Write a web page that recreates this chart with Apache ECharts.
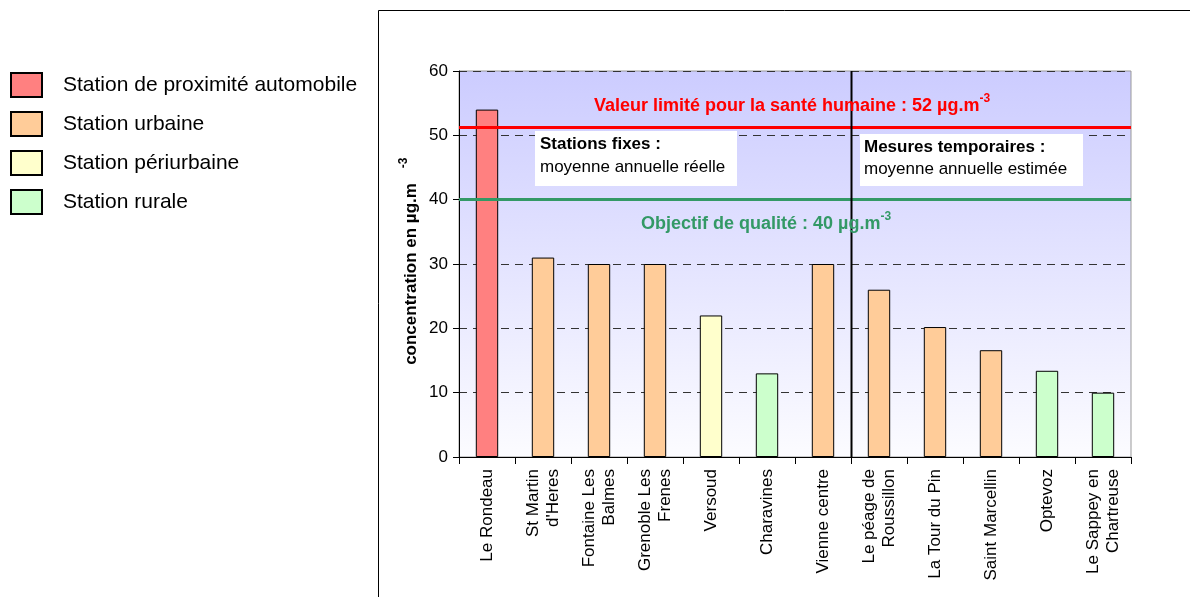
<!DOCTYPE html>
<html>
<head>
<meta charset="utf-8">
<script src="https://cdn.jsdelivr.net/npm/echarts@6/dist/echarts.min.js"></script>
<style>html,body{margin:0;padding:0;background:#fff}#c{width:1190px;height:597px}</style>
</head>
<body>
<div id="c"></div>
<script>
const categories = ["Le Rondeau", "St Martin\nd'Heres", "Fontaine Les\nBalmes", "Grenoble Les\nFrenes", "Versoud", "Charavines", "Vienne centre", "Le péage de\nRoussillon", "La Tour du Pin", "Saint Marcellin", "Optevoz", "Le Sappey en\nChartreuse"];
const values = [54, 31, 30, 30, 22, 13, 30, 26, 20.2, 16.6, 13.4, 10];
const stationTypes = ["auto", "urbaine", "urbaine", "urbaine", "peri", "rurale", "urbaine", "urbaine", "urbaine", "urbaine", "rurale", "rurale"];
const typeKeys = ["auto", "urbaine", "peri", "rurale"];
const typeNames = ["Station de proximité automobile", "Station urbaine", "Station périurbaine", "Station rurale"];
const typeColors = ["#FF8080", "#FFCC99", "#FFFFCC", "#CCFFCC"];
const limitValue = 51.3;
const objectiveValue = 40;
const yTicks = { min: 0, max: 60, interval: 10 };

const FONT = '"Liberation Sans", Arial, sans-serif';
const chart = echarts.init(document.getElementById('c'), null, { renderer: 'canvas' });

const series = typeKeys.map((k, ti) => ({
  name: typeNames[ti],
  type: 'bar',
  stack: 'all',
  barWidth: '40%',
  itemStyle: { color: typeColors[ti], borderColor: '#000', borderWidth: 1 },
  emphasis: { disabled: true },
  data: values.map((v, i) => stationTypes[i] === k ? v : '-')
}));

series[0].markLine = {
  silent: true,
  symbol: 'none',
  label: { show: false },
  data: [
    { yAxis: limitValue, lineStyle: { color: '#FF0000', width: 3, type: 'solid' } },
    { yAxis: objectiveValue, lineStyle: { color: '#339966', width: 3, type: 'solid' } }
  ]
};

const option = {
  animation: false,
  backgroundColor: '#fff',
  textStyle: { fontFamily: FONT },
  grid: {
    left: 459, right: 59, top: 71, bottom: 140,
    show: true,
    borderColor: '#999', borderWidth: 1,
    backgroundColor: new echarts.graphic.LinearGradient(0, 0, 0, 1, [
      { offset: 0, color: '#CCCCFF' },
      { offset: 1, color: '#FCFCFF' }
    ])
  },
  legend: {
    orient: 'vertical',
    left: 10, top: 72,
    itemWidth: 31, itemHeight: 24, itemGap: 13,
    icon: 'rect',
    padding: 0,
    selectedMode: false,
    textStyle: { fontSize: 21, color: '#000', fontFamily: FONT, padding: [7, 0, 0, 16] },
    data: typeNames
  },
  xAxis: {
    type: 'category',
    data: categories,
    axisLine: { lineStyle: { color: '#000', width: 1 } },
    axisTick: { show: true, interval: 0, length: 7, lineStyle: { color: '#000' } },
    axisLabel: { interval: 0, rotate: 90, fontSize: 17, lineHeight: 20, color: '#000', margin: 12, fontFamily: FONT }
  },
  yAxis: {
    type: 'value',
    min: yTicks.min, max: yTicks.max, interval: yTicks.interval,
    axisLine: { show: true, lineStyle: { color: '#000', width: 1 } },
    axisTick: { show: true, length: 6, lineStyle: { color: '#000' } },
    axisLabel: { fontSize: 17, color: '#000', margin: 11, fontFamily: FONT },
    splitLine: { show: true, lineStyle: { color: '#333', type: [8, 6], width: 1 } }
  },
  series: series
};
chart.setOption(option);

const x6 = chart.convertToPixel({ xAxisIndex: 0 }, 6);
const x7 = chart.convertToPixel({ xAxisIndex: 0 }, 7);
const xSep = Math.round((x6 + x7) / 2) + 0.5;
const yTop = chart.convertToPixel({ yAxisIndex: 0 }, yTicks.max);
const yBot = chart.convertToPixel({ yAxisIndex: 0 }, yTicks.min);

const supRich = {
  b: { fontSize: 18, fontWeight: 'bold', fontFamily: FONT, lineHeight: 23, verticalAlign: 'bottom' },
  s: { fontSize: 12, fontWeight: 'bold', fontFamily: FONT, lineHeight: 23, verticalAlign: 'top' }
};

chart.setOption({
  graphic: [
    { type: 'polyline', silent: true, z: 100, shape: { points: [[378.5, 597], [378.5, 10.5], [1190, 10.5]] }, style: { stroke: '#000', lineWidth: 1, fill: null } },
    { type: 'line', silent: true, z: 100, shape: { x1: xSep, y1: yTop, x2: xSep, y2: yBot }, style: { stroke: '#000', lineWidth: 2 } },
    // Y axis title
    { type: 'text', silent: true, z: 100, x: 411, y: 274, rotation: Math.PI / 2,
      style: { text: 'concentration en µg.m', fontSize: 17, fontWeight: 'bold', fontFamily: FONT, fill: '#000', align: 'center', verticalAlign: 'middle' } },
    { type: 'text', silent: true, z: 100, x: 404, y: 163, rotation: Math.PI / 2,
      style: { text: '-3', fontSize: 12, fontWeight: 'bold', fontFamily: FONT, fill: '#000', align: 'center', verticalAlign: 'middle' } },
    // line labels
    { type: 'text', silent: true, z: 100, x: 594, y: 104,
      style: { text: '{b|Valeur limité pour la santé humaine : 52 µg.m}{s|-3}', rich: supRich, fill: '#FF0000', align: 'left', verticalAlign: 'middle' } },
    { type: 'text', silent: true, z: 100, x: 641, y: 222,
      style: { text: '{b|Objectif de qualité : 40 µg.m}{s|-3}', rich: supRich, fill: '#339966', align: 'left', verticalAlign: 'middle' } },
    // boxes
    { type: 'rect', silent: true, z: 100, shape: { x: 535, y: 131, width: 202, height: 55 }, style: { fill: '#fff' } },
    { type: 'text', silent: true, z: 101, x: 540, y: 144,
      style: { text: 'Stations fixes :', fontSize: 17, fontWeight: 'bold', fontFamily: FONT, fill: '#000', align: 'left', verticalAlign: 'middle' } },
    { type: 'text', silent: true, z: 101, x: 540, y: 167,
      style: { text: 'moyenne annuelle réelle', fontSize: 17, fontFamily: FONT, fill: '#000', align: 'left', verticalAlign: 'middle' } },
    { type: 'rect', silent: true, z: 100, shape: { x: 860, y: 134, width: 223, height: 52 }, style: { fill: '#fff' } },
    { type: 'text', silent: true, z: 101, x: 864, y: 147,
      style: { text: 'Mesures temporaires :', fontSize: 17, fontWeight: 'bold', fontFamily: FONT, fill: '#000', align: 'left', verticalAlign: 'middle' } },
    { type: 'text', silent: true, z: 101, x: 864, y: 169,
      style: { text: 'moyenne annuelle estimée', fontSize: 17, fontFamily: FONT, fill: '#000', align: 'left', verticalAlign: 'middle' } }
  ]
});
</script>
</body>
</html>
